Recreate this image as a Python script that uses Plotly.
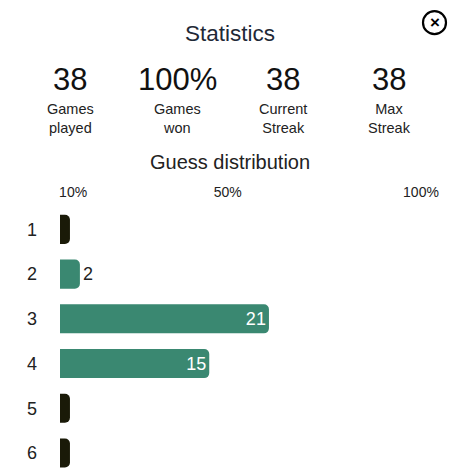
import plotly.graph_objects as go

# data
guesses = ["1", "2", "3", "4", "5", "6"]
counts = [0, 2, 21, 15, 0, 0]
stat_values = ["38", "100%", "38", "38"]
stat_labels = ["Games<br>played", "Games<br>won", "Current<br>Streak", "Max<br>Streak"]
pct_ticks = [10, 50, 100]
pct_labels = ["10%", "50%", "100%"]

# page has an 8px body margin, so the figure is drawn 8px smaller
OFF = 8
W, H = 469 - OFF, 469 - OFF
L, R, T, B = 60 - OFF, 20, 206.6 - OFF, 0
pw, ph = W - L - R, H - T - B

def px(x):
    return (x - OFF - L) / pw

def py(y):
    return (H - (y - OFF)) / ph

green = "#3a8871"
dark = "#1a1a08"
min_w = 1.0  # empty rows still get a small pill

shown = [max(c, min_w) for c in counts]
colors = [green if c > 0 else dark for c in counts]
texts = [str(c) if c > 0 else "" for c in counts]
text_pos = ["inside" if c >= 5 else "outside" for c in counts]
text_col = ["white" if c >= 5 else "#222" for c in counts]

fig = go.Figure()
fig.add_trace(go.Bar(
    x=shown, y=guesses, orientation="h",
    marker=dict(color=colors, line=dict(width=0)),
    text=texts, textposition=text_pos,
    insidetextanchor="end",
    textfont=dict(size=18, color=text_col, family="Arial"),
    cliponaxis=False, width=0.65,
    hoverinfo="skip",
))
# invisible trace so the top percent axis exists
fig.add_trace(go.Scatter(x=pct_ticks, y=[guesses[0]] * 3, xaxis="x2",
                         mode="markers", marker=dict(opacity=0),
                         hoverinfo="skip"))

fig.update_layout(
    width=W, height=H, autosize=False,
    margin=dict(l=L, r=R, t=T, b=B, pad=0),
    paper_bgcolor="white", plot_bgcolor="white",
    showlegend=False, barcornerradius=5,
    font=dict(family="Arial", color="#222"),
    xaxis=dict(range=[0, pw / 9.95], visible=False),
    xaxis2=dict(range=[6.6, 6.6 + pw / 3.865], overlaying="x", side="top",
                tickvals=pct_ticks, ticktext=pct_labels,
                showgrid=False, zeroline=False, showline=False,
                ticks="", ticklabelstandoff=6,
                tickfont=dict(size=14, color="#222")),
    yaxis=dict(categoryorder="array", categoryarray=guesses,
               range=[5 + (469 - 453) / 44.8, -0.5],
               showgrid=False, zeroline=False, ticks="",
               ticklabelstandoff=22,
               tickfont=dict(size=18, color="#222")),
)

ann = [
    dict(x=px(230), y=py(33), text="Statistics",
         font=dict(size=22.5, color="#1f2937")),
    dict(x=px(230), y=py(162), text="Guess distribution",
         font=dict(size=20, color="#222")),
]
cols = [70, 177, 283, 389]
for cx, v, lab in zip(cols, stat_values, stat_labels):
    ann.append(dict(x=px(cx), y=py(79), text=v, font=dict(size=31, color="#111")))
    ann.append(dict(x=px(cx), y=py(118), text=lab, font=dict(size=14.5, color="#222")))
ann.append(dict(x=px(434.5), y=py(22), text="<b>×</b>",
                font=dict(size=17, color="black")))
for a in ann:
    a.update(xref="paper", yref="paper", showarrow=False,
             xanchor="center", yanchor="middle")
fig.update_layout(annotations=ann)

fig.add_shape(type="circle", xref="paper", yref="paper",
              x0=px(423), x1=px(446), y0=py(10.5), y1=py(33.5),
              line=dict(color="black", width=2.2))

fig.write_html("out.html")
